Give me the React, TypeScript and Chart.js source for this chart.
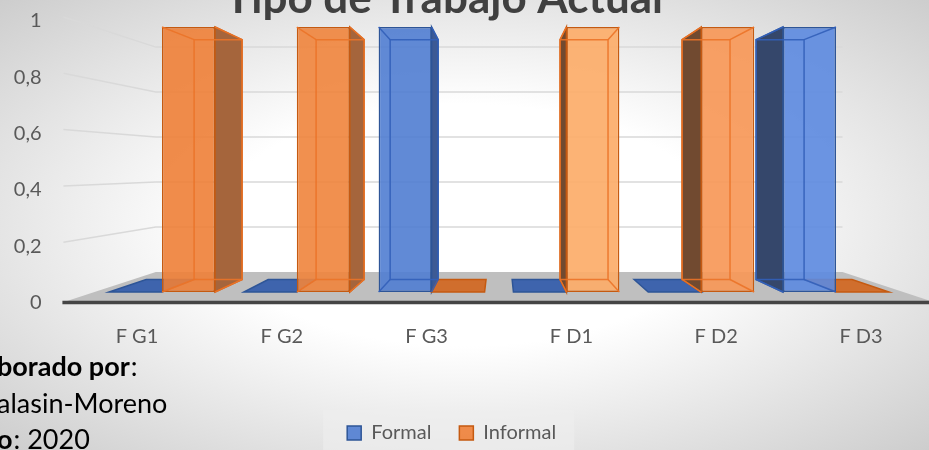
import React, { useEffect, useRef } from 'react';
import { Chart, registerables } from 'chart.js';
Chart.register(...registerables);

const categories = ['F G1', 'F G2', 'F G3', 'F D1', 'F D2', 'F D3'];
const seriesNames = ['Formal', 'Informal'];
const formalValues = [0, 0, 1, 0, 0, 1];
const informalValues = [1, 1, 0, 1, 1, 0];
const yTickValues = [0, 0.2, 0.4, 0.6, 0.8, 1];
const yTickLabels = ['0', '0,2', '0,4', '0,6', '0,8', '1'];
const titleText = 'Tipo de Trabajo Actual';
const creditBold = ['borado por', '', 'o'];
const creditRest = [':', 'alasin-Moreno', ': 2020'];

const FONT = 'Lato, "Open Sans", sans-serif';
const VPX = 500, VPY = 160, S_BAR = 0.905, S_WALL = 0.849, S_FRONT = 1.072;
const proj = (x: number, y: number, s: number): [number, number] => [VPX + s * (x - VPX), VPY + s * (y - VPY)];

// lighting per category (style only)
const blueShades = ['rgba(80,125,210,0.9)', 'rgba(80,125,210,0.9)', 'rgba(80,125,210,0.9)', 'rgba(88,133,218,0.9)', 'rgba(92,138,224,0.9)', 'rgba(92,138,224,0.9)'];
const orangeShades = ['rgba(238,128,55,0.9)', 'rgba(239,132,60,0.9)', 'rgba(242,140,68,0.9)', 'rgba(252,172,105,0.92)', 'rgba(247,152,88,0.92)', 'rgba(245,148,82,0.9)'];

const seriesStyle = [
  { fill: 'rgba(80,125,210,0.9)', shades: blueShades, border: '#2e5597', flat: '#3e64ad', sideRight: '#3d5a94', sideLeft: '#35476b', inner: 'rgba(50,95,185,0.9)' },
  { fill: 'rgba(238,128,55,0.9)', shades: orangeShades, border: '#c55a11', flat: '#d06e2d', sideRight: '#a5653c', sideLeft: '#714a30', inner: 'rgba(235,115,40,0.9)' },
];

function poly(ctx: CanvasRenderingContext2D, pts: number[][]) {
  ctx.beginPath();
  ctx.moveTo(pts[0][0], pts[0][1]);
  for (let i = 1; i < pts.length; i++) ctx.lineTo(pts[i][0], pts[i][1]);
  ctx.closePath();
}

function barRects(chart: any, di: number) {
  const meta = chart.getDatasetMeta(di);
  const data = chart.data.datasets[di].data as number[];
  return meta.data.map((el: any, j: number) => {
    const p = el.getProps(['x', 'y', 'base', 'width'], true);
    return {
      L: p.x - p.width / 2, R: p.x + p.width / 2,
      T: Math.min(p.y, p.base), B: Math.max(p.y, p.base), cx: p.x, v: data[j],
    };
  });
}

const scenePlugin = {
  id: 'scene3d',
  beforeDraw(chart: any) {
    const { ctx, chartArea } = chart;
    const yb = chart.scales.yb, yl = chart.scales.y;
    const L = chartArea.left, R = chartArea.right;
    const y0 = yb.getPixelForValue(0);
    ctx.save();
    const lg = chart.legend;
    if (lg && lg.lineWidths) {
      const p = lg.options.labels.padding;
      const lw = lg.lineWidths[0];
      const sx = (lg.left + p + lg.right - lw) / 2;
      ctx.fillStyle = 'rgba(238,238,238,0.6)';
      ctx.fillRect(sx - 24, lg.top + 15, lw - p + 42, lg.bottom - lg.top);
    }
    ctx.strokeStyle = '#d9d9d9';
    ctx.lineWidth = 1.5;
    yTickValues.forEach((v) => {
      if (v === 0) return;
      const yf = yb.getPixelForValue(v);
      const bl = proj(L, yf, S_WALL), br = proj(R, yf, S_WALL);
      const fx = proj(L, yf, S_FRONT)[0] - 2;
      const fy = yl.getPixelForValue(v) - 4;
      ctx.beginPath();
      ctx.moveTo(fx, fy);
      ctx.lineTo(bl[0], bl[1]);
      ctx.lineTo(br[0], br[1]);
      ctx.stroke();
    });
    const fbl = proj(L, y0, S_WALL), fbr = proj(R, y0, S_WALL);
    const ffl = proj(L, y0, S_FRONT), ffr = proj(R, y0, S_FRONT);
    ctx.fillStyle = '#bfbfbf';
    poly(ctx, [fbl, fbr, ffr, ffl]);
    ctx.fill();
    ctx.strokeStyle = '#454545';
    ctx.lineWidth = 3.5;
    ctx.beginPath();
    ctx.moveTo(ffl[0] - 3, ffl[1] + 1);
    ctx.lineTo(ffr[0], ffr[1] + 1);
    ctx.stroke();
    ctx.restore();
  },
  beforeDatasetsDraw(chart: any) {
    const { ctx } = chart;
    ctx.save();
    ctx.lineWidth = 1.5;
    chart.data.datasets.forEach((_: any, di: number) => {
      const st = seriesStyle[di];
      barRects(chart, di).forEach((b: any) => {
        ctx.strokeStyle = st.border;
        if (b.v === 0) {
          const pl = proj(b.L, b.B, S_BAR), pr = proj(b.R, b.B, S_BAR);
          ctx.fillStyle = st.flat;
          poly(ctx, [[b.L, b.B], [b.R, b.B], pr, pl]);
          ctx.fill();
          ctx.stroke();
        } else {
          const right = b.cx < VPX;
          const X = right ? b.R : b.L;
          const pt = proj(X, b.T, S_BAR), pb = proj(X, b.B, S_BAR);
          ctx.fillStyle = right ? st.sideRight : st.sideLeft;
          poly(ctx, [[X, b.T], pt, pb, [X, b.B]]);
          ctx.fill();
          ctx.stroke();
        }
      });
    });
    ctx.restore();
  },
  afterDatasetsDraw(chart: any) {
    const { ctx } = chart;
    ctx.save();
    ctx.lineWidth = 1.5;
    chart.data.datasets.forEach((_: any, di: number) => {
      const st = seriesStyle[di];
      barRects(chart, di).forEach((b: any) => {
        if (b.v === 0) return;
        const a = proj(b.L, b.T, S_BAR), c = proj(b.R, b.T, S_BAR);
        const d = proj(b.R, b.B, S_BAR), e = proj(b.L, b.B, S_BAR);
        ctx.strokeStyle = st.inner;
        poly(ctx, [a, c, d, e]);
        ctx.stroke();
        ctx.beginPath();
        ctx.moveTo(b.L, b.T); ctx.lineTo(a[0], a[1]);
        ctx.moveTo(b.R, b.T); ctx.lineTo(c[0], c[1]);
        ctx.moveTo(b.R, b.B); ctx.lineTo(d[0], d[1]);
        ctx.moveTo(b.L, b.B); ctx.lineTo(e[0], e[1]);
        ctx.stroke();
      });
    });
    ctx.restore();
  },
  afterDraw(chart: any) {
    const { ctx } = chart;
    ctx.save();
    ctx.fillStyle = '#404040';
    ctx.font = 'bold 44px ' + FONT;
    ctx.textAlign = 'center';
    ctx.textBaseline = 'alphabetic';
    ctx.fillText(titleText, 444, 13);
    ctx.textAlign = 'left';
    const baselines = [376, 413, 449];
    creditBold.forEach((bt, i) => {
      let x = -3;
      ctx.fillStyle = '#000000';
      if (bt) {
        ctx.font = 'bold 27px ' + FONT;
        ctx.fillText(bt, x, baselines[i]);
        x += ctx.measureText(bt).width + 1;
      }
      ctx.font = '27px ' + FONT;
      ctx.fillText(creditRest[i], x, baselines[i]);
    });
    ctx.restore();
  },
};

export default function App() {
  const ref = useRef<HTMLCanvasElement | null>(null);
  useEffect(() => {
    if (!ref.current) return;
    const tickFont = { family: FONT, size: 20 };
    const mkDataset = (di: number, data: number[]) => ({
      label: seriesNames[di], data, xAxisID: 'xb', yAxisID: 'yb',
      backgroundColor: (c: any) => (c.type === 'data' ? seriesStyle[di].shades[c.dataIndex] : seriesStyle[di].fill),
      borderColor: seriesStyle[di].border,
      borderWidth: 1.5, borderSkipped: false, barPercentage: 1, categoryPercentage: 0.786,
    });
    const chart = new Chart(ref.current, {
      type: 'bar',
      data: {
        labels: categories,
        datasets: [mkDataset(0, formalValues), mkDataset(1, informalValues)],
      },
      options: {
        responsive: false,
        animation: false,
        devicePixelRatio: 1,
        layout: { padding: { left: 0, right: 25.6, top: 21, bottom: -3 } },
        plugins: {
          legend: {
            position: 'bottom',
            labels: { font: tickFont, color: '#595959', boxWidth: 14, boxHeight: 14, padding: 28 },
          },
          title: { display: false },
          tooltip: { enabled: false },
        },
        scales: {
          xb: { type: 'category', display: false, offset: true, grid: { offset: true } },
          yb: { type: 'linear', display: false, min: -0.0396, max: 1.0227 },
          x: {
            type: 'linear', position: 'bottom', min: -0.2928, max: 5.2928, offset: false,
            afterBuildTicks: (s: any) => { s.ticks = categories.map((_, i) => ({ value: i })); },
            afterFit: (s: any) => { s.height = 92.5; s.paddingLeft = 0; s.paddingRight = 0; },
            ticks: { callback: (v: any) => categories[v], font: tickFont, color: '#595959', padding: 22, autoSkip: false, maxRotation: 0 },
            grid: { display: false, drawTicks: false, offset: false },
            border: { display: false },
          },
          y: {
            type: 'linear', position: 'left', min: 0, max: 1,
            afterBuildTicks: (s: any) => { s.ticks = yTickValues.map((v) => ({ value: v })); },
            afterFit: (s: any) => { s.width = 94.6; s.paddingTop = 0; s.paddingBottom = 0; },
            ticks: { callback: (v: any) => yTickLabels[yTickValues.indexOf(v)], font: tickFont, color: '#595959', padding: 53 },
            grid: { display: false, drawTicks: false },
            border: { display: false },
          },
        },
      } as any,
      plugins: [scenePlugin],
    });
    return () => chart.destroy();
  }, []);
  return (
    <div style={{ position: 'fixed', left: 0, top: 0, width: 929, height: 450, overflow: 'hidden',
      background: 'radial-gradient(ellipse at 50% 50%, #ffffff 0%, #ffffff 38%, #cdcdcd 100%)' }}>
      <canvas ref={ref} width={929} height={450} style={{ display: 'block', width: 929, height: 450 }} />
    </div>
  );
}
